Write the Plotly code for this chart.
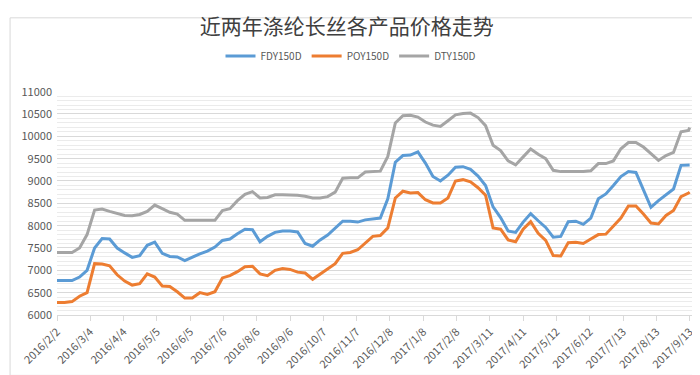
import plotly.graph_objects as go

dates = [
    "2016-02-02", "2016-02-09", "2016-02-16", "2016-02-23",
    "2016-03-01", "2016-03-08", "2016-03-15", "2016-03-22", "2016-03-29",
    "2016-04-05", "2016-04-12", "2016-04-19", "2016-04-26",
    "2016-05-03", "2016-05-10", "2016-05-17", "2016-05-24", "2016-05-31",
    "2016-06-07", "2016-06-14", "2016-06-21", "2016-06-28",
    "2016-07-05", "2016-07-12", "2016-07-19", "2016-07-26",
    "2016-08-02", "2016-08-09", "2016-08-16", "2016-08-23", "2016-08-30",
    "2016-09-06", "2016-09-13", "2016-09-20", "2016-09-27",
    "2016-10-04", "2016-10-11", "2016-10-18", "2016-10-25",
    "2016-11-01", "2016-11-08", "2016-11-15", "2016-11-22", "2016-11-29",
    "2016-12-06", "2016-12-13", "2016-12-20", "2016-12-27",
    "2017-01-03", "2017-01-10", "2017-01-17", "2017-01-24", "2017-01-31",
    "2017-02-07", "2017-02-14", "2017-02-21", "2017-02-28",
    "2017-03-07", "2017-03-14", "2017-03-21", "2017-03-28",
    "2017-04-04", "2017-04-11", "2017-04-18", "2017-04-25",
    "2017-05-02", "2017-05-09", "2017-05-16", "2017-05-23", "2017-05-30",
    "2017-06-06", "2017-06-13", "2017-06-20", "2017-06-27",
    "2017-07-04", "2017-07-11", "2017-07-18", "2017-07-25",
    "2017-08-01", "2017-08-08", "2017-08-15", "2017-08-22", "2017-08-29",
    "2017-09-05", "2017-09-12", "2017-09-13",
]

fdy150d = [
    6770, 6770, 6770, 6850,
    7000, 7500, 7710, 7700, 7500,
    7390, 7290, 7330, 7560,
    7630, 7380, 7310, 7300, 7220,
    7300, 7370, 7430, 7520,
    7670, 7700, 7820, 7920,
    7910, 7640, 7760, 7850, 7880,
    7880, 7860, 7600, 7540,
    7680, 7790, 7950, 8100,
    8100, 8080, 8130, 8150, 8170,
    8600, 9420, 9570, 9580,
    9650, 9400, 9100, 9000, 9130,
    9310, 9320, 9260, 9110,
    8900, 8420, 8180, 7880,
    7850, 8080, 8270, 8110,
    7960, 7740, 7760, 8090, 8100,
    8030, 8170, 8600, 8710,
    8900, 9100, 9210, 9190,
    8800, 8410, 8560, 8700, 8820,
    9350, 9360, 9360,
]

poy150d = [
    6280, 6280, 6300, 6420,
    6500, 7150, 7140, 7100, 6900,
    6760, 6670, 6700, 6920,
    6850, 6650, 6640, 6520, 6380,
    6380, 6500, 6460, 6520,
    6830, 6880, 6970, 7080,
    7090, 6920, 6880, 7000, 7040,
    7020, 6960, 6940, 6800,
    6920, 7050, 7150, 7380,
    7400, 7460, 7600, 7760, 7780,
    7950, 8620, 8770, 8730,
    8740, 8580, 8510, 8510, 8620,
    9000, 9030, 8980, 8850,
    8680, 7950, 7920, 7680,
    7640, 7920, 8090, 7830,
    7670, 7330, 7320, 7620, 7630,
    7600, 7700, 7800, 7810,
    8000, 8170, 8440, 8440,
    8260, 8060, 8040, 8230, 8340,
    8650, 8730, 8750,
]

dty150d = [
    7400, 7400, 7400, 7500,
    7800, 8350, 8370, 8320, 8280,
    8230, 8220, 8250, 8320,
    8460, 8380, 8300, 8260, 8120,
    8120, 8120, 8120, 8120,
    8340, 8380, 8560, 8700,
    8760, 8620, 8630, 8690, 8690,
    8690, 8680, 8660, 8620,
    8620, 8650, 8750, 9060,
    9070, 9070, 9200, 9210, 9220,
    9550, 10300, 10460, 10470,
    10430, 10320, 10250, 10220, 10350,
    10480, 10510, 10520, 10420,
    10240, 9800, 9680, 9450,
    9360, 9540, 9715, 9600,
    9500, 9240, 9210, 9210, 9210,
    9210, 9230, 9390, 9390,
    9450, 9720, 9860, 9860,
    9760, 9610, 9460, 9570, 9640,
    10100, 10130, 10200,
]

tick_dates = [
    "2016-02-02", "2016-03-04", "2016-04-04", "2016-05-05", "2016-06-05",
    "2016-07-06", "2016-08-06", "2016-09-06", "2016-10-07", "2016-11-07",
    "2016-12-08", "2017-01-08", "2017-02-08", "2017-03-11", "2017-04-11",
    "2017-05-12", "2017-06-12", "2017-07-13", "2017-08-13", "2017-09-13",
]
tick_labels = [
    "2016/2/2", "2016/3/4", "2016/4/4", "2016/5/5", "2016/6/5",
    "2016/7/6", "2016/8/6", "2016/9/6", "2016/10/7", "2016/11/7",
    "2016/12/8", "2017/1/8", "2017/2/8", "2017/3/11", "2017/4/11",
    "2017/5/12", "2017/6/12", "2017/7/13", "2017/8/13", "2017/9/13",
]

series = [
    ("FDY150D", fdy150d, "#5B9BD5"),
    ("POY150D", poy150d, "#ED7D31"),
    ("DTY150D", dty150d, "#A5A5A5"),
]

FONT = "Noto Sans CJK SC"
fig = go.Figure()
for name, vals, col in series:
    fig.add_trace(go.Scatter(
        x=dates, y=vals, name=name, mode="lines",
        line=dict(color=col, width=3),
    ))

fig.update_layout(
    width=700, height=375,
    margin=dict(l=48, r=13, t=78, b=64),
    paper_bgcolor="white", plot_bgcolor="white",
    font=dict(family=FONT, color="#595959", size=11),
    title=dict(text="近两年涤纶长丝各产品价格走势", x=0.484, xref="container",
               xanchor="center", y=0.95, yref="container", yanchor="middle",
               font=dict(size=21, color="#404040", family=FONT)),
    legend=dict(orientation="h", x=0.49, xref="container", xanchor="center",
                y=0.872, yref="container", yanchor="middle",
                font=dict(size=10, color="#595959"), itemwidth=30,
                traceorder="normal"),
    showlegend=True,
)
fig.update_xaxes(
    type="date", range=["2016-02-02", "2017-09-18"],
    tickvals=tick_dates, ticktext=tick_labels, tickangle=-45,
    showgrid=False, showline=True, linecolor="#d9d9d9", linewidth=1,
    ticks="outside", ticklen=5, tickcolor="#d9d9d9",
    tickfont=dict(size=11, color="#595959"),
)
fig.update_yaxes(
    range=[6000, 11000], dtick=500, tick0=6000, tickformat="d",
    showgrid=True, gridcolor="#d9d9d9", gridwidth=1,
    minor=dict(dtick=100, tick0=6000, showgrid=True, gridcolor="#ebebeb", gridwidth=1),
    zeroline=False, showline=False, ticks="",
    tickfont=dict(size=11, color="#595959"),
    ticklabelstandoff=4,
)
fig.add_shape(type="rect", xref="paper", yref="paper",
              x0=(1 - 48) / 639, x1=(699 - 48) / 639,
              y0=(311 - 374) / 233, y1=(311 - 1) / 233,
              line=dict(color="#d9d9d9", width=1), fillcolor="rgba(0,0,0,0)",
              layer="below")

fig.write_html("out.html")
